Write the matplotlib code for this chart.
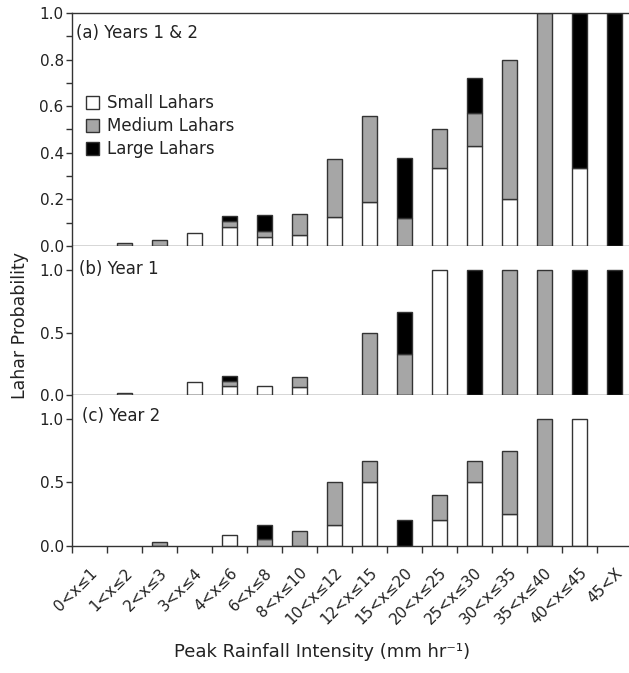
import matplotlib.pyplot as plt
import numpy as np

# categories of peak rainfall intensity
cats = ["0<x≤1", "1<x≤2", "2<x≤3", "3<x≤4", "4<x≤6", "6<x≤8", "8<x≤10", "10<x≤12",
        "12<x≤15", "15<x≤20", "20<x≤25", "25<x≤30", "30<x≤35", "35<x≤40", "40<x≤45", "45<X"]

# (a) Years 1 & 2
a_small = [0, 0, 0, 0.054, 0.083, 0.037, 0.049, 0.125, 0.19, 0, 0.333, 0.43, 0.2, 0, 0.333, 0]
a_medium = [0, 0.011, 0.026, 0, 0.023, 0.026, 0.09, 0.25, 0.37, 0.12, 0.167, 0.14, 0.6, 1.0, 0, 0]
a_large = [0, 0, 0, 0, 0.021, 0.07, 0, 0, 0, 0.257, 0, 0.15, 0, 0, 0.667, 1.0]

# (b) Year 1
b_small = [0, 0, 0, 0.108, 0.074, 0.077, 0.067, 0, 0, 0, 1.0, 0, 0, 0, 0, 0]
b_medium = [0, 0.02, 0, 0, 0.04, 0, 0.077, 0, 0.5, 0.333, 0, 0, 1.0, 1.0, 0, 0]
b_large = [0, 0, 0, 0, 0.04, 0, 0, 0, 0, 0.333, 0, 1.0, 0, 0, 1.0, 1.0]

# (c) Year 2
c_small = [0, 0, 0, 0, 0.087, 0, 0, 0.167, 0.5, 0, 0.2, 0.5, 0.25, 0, 1.0, 0]
c_medium = [0, 0, 0.029, 0, 0, 0.05, 0.119, 0.333, 0.167, 0, 0.2, 0.167, 0.5, 1.0, 0, 0]
c_large = [0, 0, 0, 0, 0, 0.114, 0, 0, 0, 0.2, 0, 0, 0, 0, 0, 0]

labels = ["Small Lahars", "Medium Lahars", "Large Lahars"]
colors = ["white", "#a6a6a6", "black"]

plt.rcParams['font.family'] = ['DejaVu Sans']
spine_col = "#333333"

fig = plt.figure(figsize=(6.29, 6.73), dpi=100)

left, width = 72 / 629, 560 / 629
ax_a = fig.add_axes([left, 0.6345, width, 0.3462])
ax_b = fig.add_axes([left, 0.4126, width, 0.2219])
ax_c = fig.add_axes([left, 0.1892, width, 0.2234])

x = np.arange(len(cats)) + 0.5


def stacked(ax, small, medium, large):
    bottom = np.zeros(len(cats))
    for vals, col, lab in zip([small, medium, large], colors, labels):
        vals = np.array(vals)
        m = vals > 0
        ax.bar(x[m], vals[m], width=0.42, bottom=bottom[m], color=col,
               edgecolor=spine_col, linewidth=1.0, label=lab)
        bottom += vals


stacked(ax_a, a_small, a_medium, a_large)
stacked(ax_b, b_small, b_medium, b_large)
stacked(ax_c, c_small, c_medium, c_large)

for ax in (ax_a, ax_b, ax_c):
    ax.set_xlim(0, 16)
    ax.spines['right'].set_visible(False)
    for s in ('left', 'bottom', 'top'):
        ax.spines[s].set_color(spine_col)
        ax.spines[s].set_linewidth(1.0)
    ax.tick_params(axis='y', direction='out', length=4, width=1, color=spine_col,
                   labelsize=11, pad=2, labelcolor="#222222")
    ax.tick_params(axis='y', which='minor', length=4, width=1, color=spine_col)

ax_b.spines['top'].set_visible(False)
ax_c.spines['top'].set_visible(False)

ax_a.set_ylim(0, 1.0)
ax_a.set_yticks(np.arange(0, 1.01, 0.2))
ax_a.set_yticks(np.arange(0.1, 1.0, 0.2), minor=True)
ax_a.set_yticklabels(["0.0", "0.2", "0.4", "0.6", "0.8", "1.0"])

for ax in (ax_b, ax_c):
    ax.set_ylim(0, 1.19)
    ax.set_yticks([0, 0.5, 1.0])
    ax.set_yticklabels(["0.0", "0.5", "1.0"])

for ax in (ax_a, ax_b):
    ax.set_xticks([])

ax_c.set_xticks(np.arange(0, 16))
ax_c.set_xticks(x, minor=True)
ax_c.set_xticklabels([])
ax_c.set_xticklabels(cats, minor=True, rotation=45, ha='right', rotation_mode='anchor',
                     fontsize=11, color="#222222")
ax_c.tick_params(axis='x', which='major', direction='out', length=5, width=1, color=spine_col)
ax_c.tick_params(axis='x', which='minor', length=0, pad=14)

# panel titles
ax_a.text(0.1, 0.915, "(a) Years 1 & 2", fontsize=12, va='center', ha='left', color="#222222")
ax_b.text(0.2, 1.01, "(b) Year 1", fontsize=12, va='center', ha='left', color="#222222")
ax_c.text(0.3, 1.03, "(c) Year 2", fontsize=12, va='center', ha='left', color="#222222")

ax_a.legend(loc='upper left', bbox_to_anchor=(0.025, 0.652), frameon=False, fontsize=12,
            handlelength=0.8, handleheight=0.8, handletextpad=0.45, labelspacing=0.3,
            borderpad=0, borderaxespad=0, labelcolor="#222222")

fig.text(0.032, 0.517, "Lahar Probability", rotation=90, fontsize=12.5, ha='center',
         va='center', color="#222222")
fig.text(0.512, 0.031, "Peak Rainfall Intensity (mm hr⁻¹)", fontsize=13, ha='center',
         va='center', color="#222222")

fig.savefig("out.png", dpi=100)
